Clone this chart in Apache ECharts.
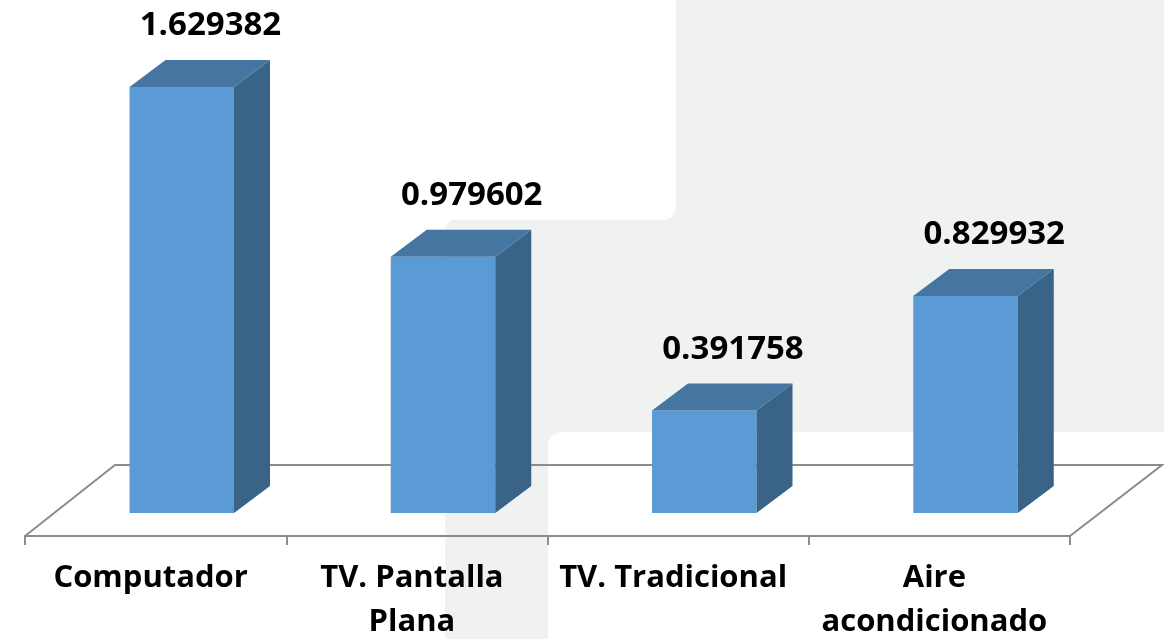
<!DOCTYPE html>
<html>
<head>
<meta charset="utf-8">
<title>Consumo por aparato</title>
<script src="https://cdn.jsdelivr.net/npm/echarts@6/dist/echarts.min.js"></script>
<style>
  html, body { margin: 0; padding: 0; background: #fff; }
  #chart { width: 1164px; height: 639px; }
</style>
</head>
<body>
<div id="chart"></div>
<script>
// categorias y valores
var categories = ['Computador', 'TV. Pantalla\nPlana', 'TV. Tradicional', 'Aire\nacondicionado'];
var values = [1.629382, 0.979602, 0.391758, 0.829932];

var chart = echarts.init(document.getElementById('chart'));

var gray = '#8C8C8C';
var bgGray = '#F0F1F1';

// barra 3D: cara frontal, lateral y superior
function renderBar(params, api) {
  var base = api.coord([api.value(0), 0]);
  var top = api.coord([api.value(0), api.value(1)]);
  var band = api.size([1, 0])[0];
  var c = base[0];
  var x0 = c - band * 0.1;
  var x1 = c + band * 0.3;
  var yb = base[1] - 23;
  var yt = top[1] - 23;
  var dx = 36, dy = -27;
  return {
    type: 'group',
    children: [
      {
        type: 'rect',
        shape: { x: x0, y: yt, width: x1 - x0, height: yb - yt },
        style: { fill: '#5B9BD5' }
      },
      {
        type: 'polygon',
        shape: { points: [[x1, yt], [x1 + dx, yt + dy], [x1 + dx, yb + dy], [x1, yb]] },
        style: { fill: '#3A6388' }
      },
      {
        type: 'polygon',
        shape: { points: [[x0, yt], [x0 + dx, yt + dy], [x1 + dx, yt + dy], [x1, yt]] },
        style: { fill: '#4576A1' }
      },
      {
        type: 'text',
        style: {
          text: String(api.value(1)),
          x: c + band * 0.21,
          y: yt - 61,
          align: 'center',
          verticalAlign: 'middle',
          font: 'bold 33px "Open Sans"',
          fill: '#000'
        }
      }
    ]
  };
}

var option = {
  backgroundColor: '#fff',
  animation: false,
  grid: { left: 25, right: 94, top: 13, bottom: 103, outerBoundsMode: 'none', containLabel: false },
  graphic: [
    // fondo de la diapositiva
    { type: 'rect', z: -10, shape: { x: 672, y: 0, width: 500, height: 300 }, style: { fill: bgGray } },
    { type: 'rect', z: -10, shape: { x: 445, y: 218, width: 760, height: 460, r: 14 }, style: { fill: bgGray } },
    { type: 'rect', z: -9, shape: { x: -20, y: -20, width: 696, height: 240, r: 14 }, style: { fill: '#fff' } },
    { type: 'rect', z: -9, shape: { x: 548, y: 432, width: 660, height: 260, r: 14 }, style: { fill: '#fff' } },
    // piso del grafico 3D
    {
      type: 'polyline', z: -1,
      shape: { points: [[25, 536], [115, 465], [1162, 465], [1070, 536]] },
      style: { stroke: gray, lineWidth: 2, fill: null }
    }
  ],
  xAxis: {
    type: 'category',
    data: categories,
    axisLine: { lineStyle: { color: gray, width: 2 } },
    axisTick: { show: true, length: 9, lineStyle: { color: gray, width: 2 } },
    axisLabel: {
      margin: 20,
      color: '#000',
      fontFamily: 'Open Sans',
      fontWeight: 'bold',
      fontSize: 31,
      lineHeight: 44,
      interval: 0,
      padding: [0, 10, 0, 0]
    }
  },
  yAxis: {
    type: 'value',
    min: 0,
    max: 2,
    show: false,
    splitLine: { show: false }
  },
  series: [
    {
      type: 'custom',
      renderItem: renderBar,
      data: values.map(function (v, i) { return [i, v]; })
    }
  ]
};

chart.setOption(option);
</script>
</body>
</html>
